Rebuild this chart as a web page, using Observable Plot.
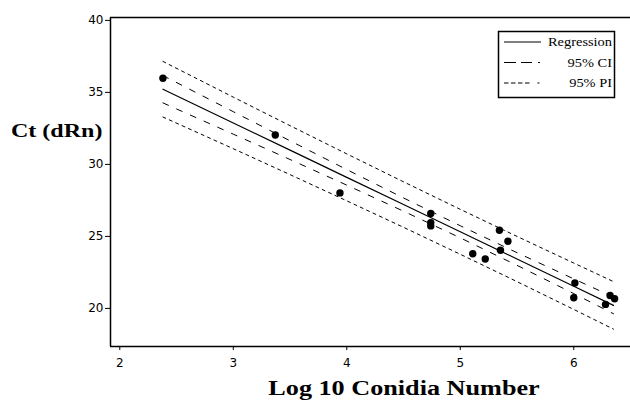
<!DOCTYPE html>
<html>
<head>
<meta charset="utf-8">
<script src="https://cdn.jsdelivr.net/npm/d3@7"></script>
<script src="https://cdn.jsdelivr.net/npm/@observablehq/plot@0.6"></script>
<style>
  html, body { margin: 0; padding: 0; background: white; }
  #chart { width: 630px; height: 404px; }
</style>
</head>
<body>
<div id="chart"></div>
<script>
// Observed points (log10 conidia number, Ct)
const pointX = [2.38, 3.37, 3.94, 4.74, 4.74, 4.74, 5.11, 5.22, 5.345, 5.354, 5.42, 6.01, 6.00, 6.28, 6.32, 6.36];
const pointY = [35.98, 32.04, 28.02, 26.59, 25.96, 25.73, 23.80, 23.43, 25.43, 24.04, 24.66, 21.76, 20.74, 20.28, 20.90, 20.67];

// Fitted lines
const bandX      = [2.38, 3.0, 3.5, 4.0, 4.5, 5.0, 5.5, 6.0, 6.35];
const regression = [35.22, 32.88, 30.99, 29.10, 27.21, 25.32, 23.43, 21.54, 20.21];
const ciUpper    = [36.17, 33.66, 31.64, 29.64, 27.67, 25.74, 23.87, 22.05, 20.79];
const ciLower    = [34.27, 32.10, 30.34, 28.56, 26.75, 24.90, 22.99, 21.03, 19.63];
const piUpper    = [37.15, 34.67, 32.69, 30.73, 28.79, 26.88, 25.00, 23.15, 21.86];
const piLower    = [33.29, 31.09, 29.29, 27.47, 25.63, 23.76, 21.86, 19.93, 18.56];

const xTicks = [2, 3, 4, 5, 6];
const yTicks = [20, 25, 30, 35, 40];

const legendLabels = ["Regression", "95% CI", "95% PI"];

const points = pointX.map((x, i) => ({x, y: pointY[i]}));
const series = (ys) => bandX.map((x, i) => ({x, y: ys[i]}));

const xDomain = [1.918, 6.5];
const yDomain = [17.355, 40.2];

const chart = Plot.plot({
  width: 630,
  height: 404,
  marginLeft: 110,
  marginRight: 0,
  marginTop: 17,
  marginBottom: 58,
  x: {domain: xDomain},
  y: {domain: yDomain},
  style: {fontFamily: "'DejaVu Sans', sans-serif", fontSize: "12px", background: "white", color: "black"},
  marks: [
    Plot.axisX({ticks: xTicks, tickSize: 4, tickPadding: 8, label: null, fontSize: 12, tickFormat: d3.format("d")}),
    Plot.axisY({ticks: yTicks, tickSize: 5, tickPadding: 2, label: null, fontSize: 12, tickFormat: d3.format("d")}),
    Plot.ruleX([xDomain[0]], {stroke: "black", strokeWidth: 1.5}),
    Plot.ruleY([yDomain[0]], {stroke: "black", strokeWidth: 1.5}),
    Plot.ruleY([yDomain[1]], {stroke: "black", strokeWidth: 1.5}),
    Plot.line(series(piUpper), {x: "x", y: "y", stroke: "black", strokeWidth: 1, strokeDasharray: "3,4"}),
    Plot.line(series(piLower), {x: "x", y: "y", stroke: "black", strokeWidth: 1, strokeDasharray: "3,4"}),
    Plot.line(series(ciUpper), {x: "x", y: "y", stroke: "black", strokeWidth: 1, strokeDasharray: "6,9"}),
    Plot.line(series(ciLower), {x: "x", y: "y", stroke: "black", strokeWidth: 1, strokeDasharray: "6,9"}),
    Plot.line(series(regression), {x: "x", y: "y", stroke: "black", strokeWidth: 1.2}),
    Plot.dot(points, {x: "x", y: "y", r: 3.7, fill: "black", stroke: "none"})
  ]
});

const svg = d3.select(chart);
const serif = "'Liberation Serif', 'Times New Roman', serif";

// Axis titles
svg.append("text")
  .attr("transform", "translate(11,137) scale(1.3,1)")
  .attr("text-anchor", "start")
  .attr("font-family", serif).attr("font-weight", "bold").attr("font-size", 18.5)
  .attr("fill", "black").text("Ct (dRn)");
svg.append("text")
  .attr("transform", "translate(404,395) scale(1.31,1)")
  .attr("text-anchor", "middle")
  .attr("font-family", serif).attr("font-weight", "bold").attr("font-size", 20)
  .attr("fill", "black").text("Log 10 Conidia Number");

// Legend
const lg = svg.append("g");
lg.append("rect").attr("x", 498.5).attr("y", 31.5).attr("width", 116).attr("height", 66)
  .attr("fill", "white").attr("stroke", "black").attr("stroke-width", 1.5);
const dashes = [null, "12,5,11,6,2,50", "4.5,2.5,4.5,2.5,4.5,2.5,4.5,8,2,50"];
legendLabels.forEach((lab, i) => {
  const yy = 42 + i * 20.5;
  const ln = lg.append("line").attr("x1", 504).attr("x2", 541).attr("y1", yy).attr("y2", yy)
    .attr("stroke", "black").attr("stroke-width", 1);
  if (dashes[i]) ln.attr("stroke-dasharray", dashes[i]);
  lg.append("text")
    .attr("transform", `translate(612,${yy + 4}) scale(1.2,1)`)
    .attr("text-anchor", "end")
    .attr("font-family", serif).attr("font-size", 12)
    .attr("fill", "black").text(lab);
});

document.getElementById("chart").appendChild(chart);
</script>
</body>
</html>
